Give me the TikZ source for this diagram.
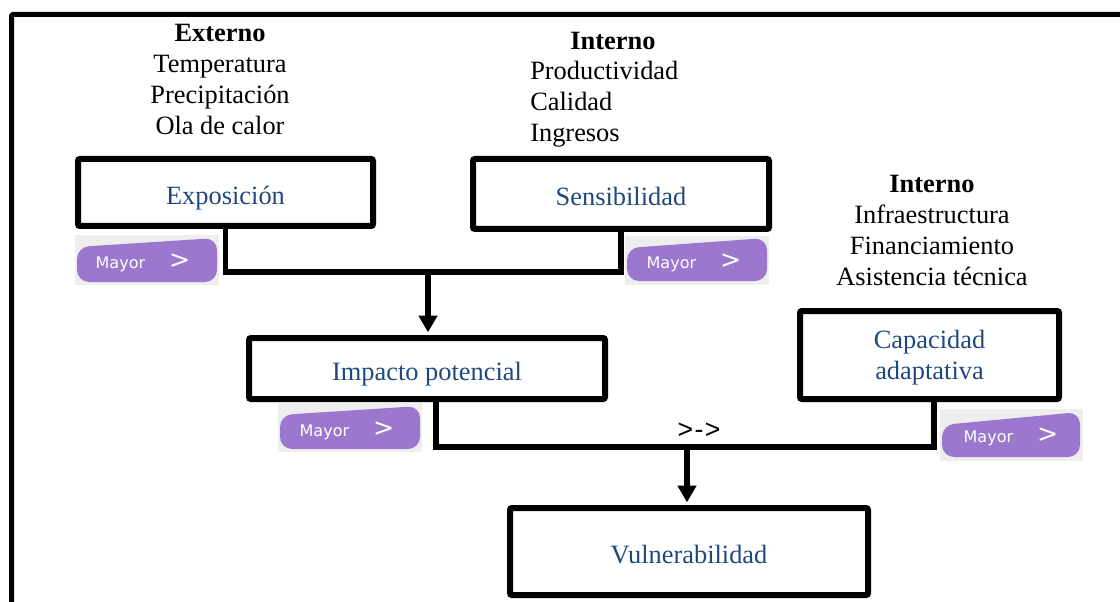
\documentclass[tikz,border=0pt]{standalone}
\usepackage{fontspec}
\setmainfont{Liberation Serif}
\newfontfamily\btnfont{DejaVu Sans}
\newfontfamily\signfont{Liberation Sans}
\usetikzlibrary{arrows.meta, positioning}
\definecolor{boxblue}{RGB}{31, 73, 125}
\definecolor{mayorpurple}{RGB}{155, 119, 206}
\definecolor{mayorback}{RGB}{238, 238, 238}

\begin{document}
\begin{tikzpicture}[x=0.75pt, y=-0.75pt,
    font=\fontsize{19.8}{23.25}\selectfont,
    caja/.style={draw, line width=4.5pt, rounded corners=1.5pt, inner sep=0pt,
      text=boxblue, text height=18.6pt, text depth=1pt},
    etiqueta/.style={inner sep=0pt, align=center},
    conn/.style={line width=3.9pt},
    flecha/.style={conn, -{Triangle[width=13.5pt, length=12.5pt]}, shorten >=2pt},
    mayorbg/.style={fill=mayorpurple, rounded corners=9pt},
    mayor/.style={inner sep=0pt, text=white,
      font=\btnfont\fontsize{12}{14}\selectfont}]
  \useasboundingbox (0,0) rectangle (1120,602);

  % Outer frame
  \draw[line width=3.75pt, rounded corners=1pt] (11.5,602) -- (11.5,14.5) -- (1120,14.5);

  % Factor lists
  \node[etiqueta] (externo) at (220,79)
    {\textbf{Externo}\\Temperatura\\Precipitación\\Ola de calor};
  \node[etiqueta] (interno1) at (613,41) {\textbf{Interno}};
  \node[etiqueta, align=left, anchor=west] (sensvars) at (530,104)
    {Productividad\\Calidad\\Ingresos};
  \node[etiqueta] (interno2) at (932,230)
    {\textbf{Interno}\\Infraestructura\\Financiamiento\\Asistencia técnica};

  % Boxes
  \node[caja, minimum width=221.25pt, minimum height=50.25pt] (expo) at (225.5,192.5) {Exposición};
  \node[caja, minimum width=222pt, minimum height=52.5pt] (sens) at (621,194) {Sensibilidad};
  \node[caja, minimum width=267pt, minimum height=45.75pt] (impacto) at (427,368.5) {Impacto potencial};
  \node[caja, minimum width=194.25pt, minimum height=66pt,
    label={[text=boxblue, align=center, yshift=-2.25pt]center:{Capacidad\\adaptativa}}]
    (capac) at (929.5,355) {};
  \node[caja, minimum width=268.5pt, minimum height=65.25pt] (vuln) at (689,551.5) {Vulnerabilidad};

  % Connectors
  \coordinate (junA) at (428,272);
  \coordinate (junB) at (687,447);
  \draw[conn] (expo.south) |- (junA) -| (sens.south);
  \draw[flecha] (junA) -- (junA |- impacto.north);
  \draw[conn] ([xshift=6.75pt]impacto.south) |- (junB) -| ([xshift=3.4pt]capac.south);
  \draw[flecha] (junB) -- (junB |- vuln.north);
  \node[font=\signfont\fontsize{20}{20}\selectfont] (signo) at (699,431) {>\kern1pt-\kern1pt>};

  % Mayor buttons
  \fill[mayorback] (75,235) rectangle (219,285);
  \fill[mayorbg] (77,247) -- (217,238) -- (217,282) -- (77,282) -- cycle;
  \node[mayor] (mayor1) at (143,263) {Mayor\hspace{18pt}{\fontsize{19}{19}\selectfont >}};
  \fill[mayorback] (625,236) rectangle (769,285);
  \fill[mayorbg] (627,248) -- (767,238) -- (767,281) -- (627,281) -- cycle;
  \node[mayor] (mayor2) at (694,263) {Mayor\hspace{18pt}{\fontsize{19}{19}\selectfont >}};
  \fill[mayorback] (278,403) rectangle (422,452);
  \fill[mayorbg] (280,415) -- (420,406) -- (420,449) -- (280,449) -- cycle;
  \node[mayor] (mayor3) at (347,431) {Mayor\hspace{18pt}{\fontsize{19}{19}\selectfont >}};
  \fill[mayorback] (940,409) rectangle (1083,461);
  \fill[mayorbg] (942,425) -- (1080,412) -- (1080,457) -- (942,457) -- cycle;
  \node[mayor] (mayor4) at (1011,437) {Mayor\hspace{18pt}{\fontsize{19}{19}\selectfont >}};
\end{tikzpicture}
\end{document}
